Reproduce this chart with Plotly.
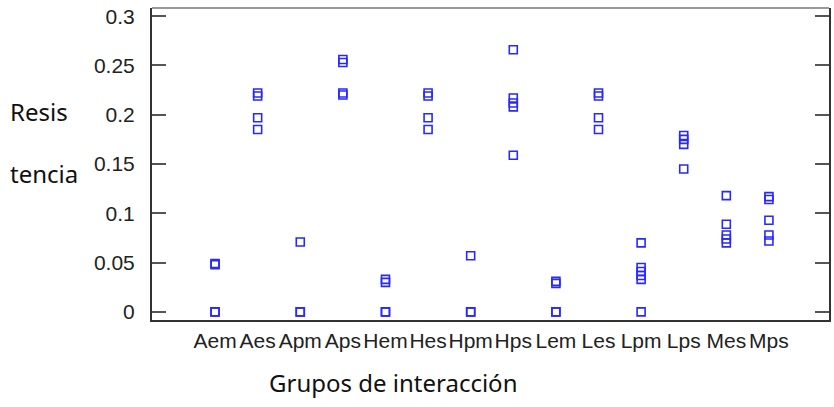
import plotly.graph_objects as go

categories = ["Aem", "Aes", "Apm", "Aps", "Hem", "Hes", "Hpm", "Hps",
              "Lem", "Les", "Lpm", "Lps", "Mes", "Mps"]

resistencia = {
    "Aem": [0.049, 0.048, 0.0, 0.0],
    "Aes": [0.222, 0.219, 0.197, 0.185],
    "Apm": [0.071, 0.0, 0.0],
    "Aps": [0.256, 0.253, 0.222, 0.220],
    "Hem": [0.033, 0.030, 0.0, 0.0],
    "Hes": [0.222, 0.219, 0.197, 0.185],
    "Hpm": [0.057, 0.0, 0.0],
    "Hps": [0.266, 0.217, 0.212, 0.208, 0.159],
    "Lem": [0.031, 0.029, 0.0, 0.0],
    "Les": [0.222, 0.219, 0.197, 0.185],
    "Lpm": [0.070, 0.045, 0.041, 0.037, 0.033, 0.0],
    "Lps": [0.179, 0.175, 0.170, 0.145],
    "Mes": [0.118, 0.089, 0.078, 0.074, 0.070],
    "Mps": [0.117, 0.114, 0.093, 0.078, 0.072],
}

y_ticks = [0, 0.05, 0.1, 0.15, 0.2, 0.25, 0.3]
y_tick_labels = ["0", "0.05", "0.1", "0.15", "0.2", "0.25", "0.3"]

xs, ys = [], []
for i, c in enumerate(categories):
    for v in resistencia[c]:
        xs.append(i)
        ys.append(v)

fig = go.Figure(go.Scatter(
    x=xs, y=ys, mode="markers",
    marker=dict(symbol="square-open", size=8, color="rgb(40,40,255)",
                line=dict(width=1.6, color="rgb(40,40,255)")),
    hoverinfo="skip", showlegend=False))

tick_font = dict(family="Liberation Sans", size=21, color="#222")

fig.update_layout(
    width=834, height=407,
    margin=dict(l=152, r=5, t=8, b=87, autoexpand=False),
    plot_bgcolor="white", paper_bgcolor="white",
    font=dict(family="Liberation Sans", color="#222"),
)

fig.update_xaxes(
    range=[-1.48, 14.41], tickmode="array",
    tickvals=list(range(len(categories))), ticktext=categories,
    showgrid=False, zeroline=False, showline=True, linecolor="#333",
    linewidth=2, ticks="", tickfont=tick_font, tickangle=0,
    ticklabelstandoff=1, automargin=False,
)
fig.update_yaxes(
    range=[-0.0082, 0.3083], tickmode="array",
    tickvals=y_ticks, ticktext=y_tick_labels,
    showgrid=False, zeroline=False, showline=True, linecolor="#333",
    linewidth=2, mirror="ticks", ticks="inside", ticklen=14, tickwidth=2,
    tickcolor="#555", tickfont=tick_font, ticklabelstandoff=11,
    automargin=False,
)

# top border
fig.add_shape(type="line", xref="paper", yref="paper", x0=0, x1=1, y0=1, y1=1,
              line=dict(color="#999", width=2))

lab_font = dict(family="Noto Sans", size=24, color="#111")
fig.add_annotation(text="Resis", xref="paper", yref="paper", x=-0.213, y=0.667,
                   xanchor="left", yanchor="middle", showarrow=False, font=lab_font)
fig.add_annotation(text="tencia", xref="paper", yref="paper", x=-0.213, y=0.471,
                   xanchor="left", yanchor="middle", showarrow=False, font=lab_font)
fig.add_annotation(text="Grupos de interacción", xref="paper", yref="paper",
                   x=0.356, y=-0.199, xanchor="center", yanchor="middle",
                   showarrow=False, font=lab_font)

fig.write_html("out.html", config={"displayModeBar": False},
               post_script="document.body.style.margin='0';")
